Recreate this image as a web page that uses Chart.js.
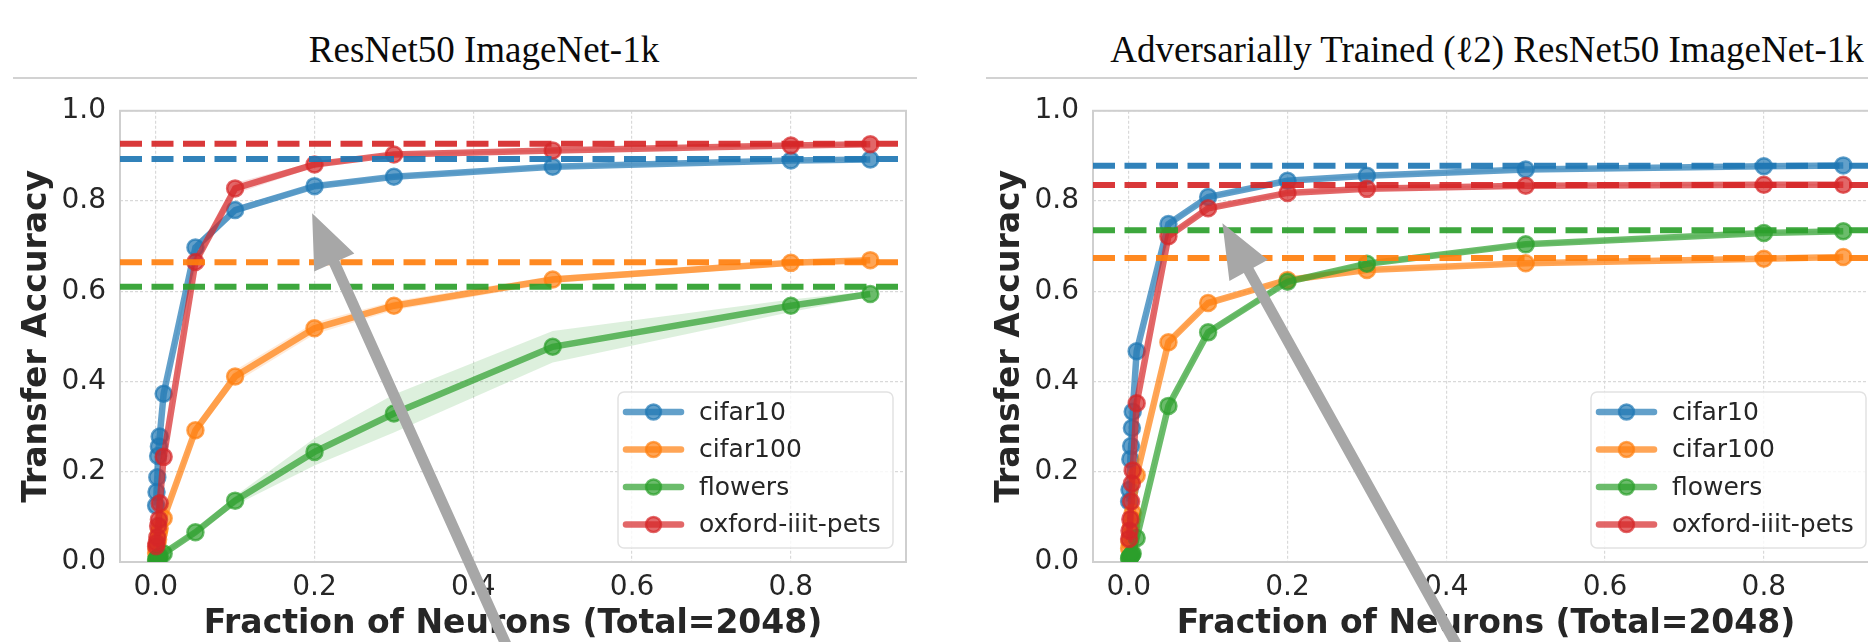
<!DOCTYPE html>
<html>
<head>
<meta charset="utf-8">
<script src="https://cdn.jsdelivr.net/npm/chart.js@4.4.1/dist/chart.umd.min.js"></script>
<style>
  html, body { margin: 0; padding: 0; background: #fff; }
  body { width: 1868px; height: 642px; overflow: hidden; position: relative; }
  .panel { position: absolute; top: 0; width: 934px; height: 642px; }
  .title {
    position: absolute; top: 31px; transform: translateX(-50%);
    font-family: "Liberation Serif", "DejaVu Serif", serif; font-size: 37px; line-height: 37px;
    color: #0a0a0a; white-space: nowrap;
  }
  .rule { position: absolute; top: 77px; left: 13px; width: 904px; height: 2px; background: #d2d2d2; }
  canvas.plot { position: absolute; top: 80px; left: 0; }
</style>
</head>
<body>
<div class="panel" style="left:0px">
  <div class="title" style="left:484px">ResNet50 ImageNet-1k</div>
  <div class="rule"></div>
  <canvas class="plot" id="stdChart" width="934" height="562"></canvas>
</div>
<div class="panel" style="left:973px">
  <div class="title" style="left:514px">Adversarially Trained (ℓ2) ResNet50 ImageNet-1k</div>
  <div class="rule"></div>
  <canvas class="plot" id="advChart" width="934" height="562"></canvas>
</div>
<script>
// Fraction of the 2048 penultimate-layer neurons kept
const fractions = [0.0005, 0.001, 0.002, 0.003, 0.004, 0.005, 0.01, 0.05, 0.1, 0.2, 0.3, 0.5, 0.8, 0.9];
const seriesNames = ['cifar10', 'cifar100', 'flowers', 'oxford-iiit-pets'];
const seriesColors = ['#1f77b4', '#ff7f0e', '#2ca02c', '#d62728'];
const xTickValues = [0.0, 0.2, 0.4, 0.6, 0.8];
const yTickValues = [0.0, 0.2, 0.4, 0.6, 0.8, 1.0];
const X_MIN = -0.045, X_MAX = 0.945;

// Standard ResNet50
const stdCifar10  = [0.125, 0.155, 0.188, 0.235, 0.256, 0.278, 0.373, 0.697, 0.780, 0.833, 0.854, 0.876, 0.890, 0.892];
const stdCifar100 = [0.020, 0.030, 0.040, 0.050, 0.065, 0.075, 0.097, 0.292, 0.411, 0.518, 0.568, 0.626, 0.663, 0.669];
const stdFlowers  = [0.005, 0.006, 0.008, 0.009, 0.011, 0.012, 0.019, 0.066, 0.136, 0.244, 0.329, 0.477, 0.568, 0.594];
const stdPets     = [0.035, 0.042, 0.055, 0.080, 0.094, 0.130, 0.233, 0.665, 0.828, 0.881, 0.903, 0.912, 0.923, 0.926];
// half-width of the shaded band around each curve
const stdCifar10Spread  = [0.005, 0.005, 0.005, 0.005, 0.005, 0.005, 0.006, 0.010, 0.008, 0.005, 0.004, 0.004, 0.003, 0.003];
const stdCifar100Spread = [0.004, 0.004, 0.004, 0.004, 0.004, 0.004, 0.005, 0.010, 0.014, 0.013, 0.010, 0.008, 0.006, 0.006];
const stdFlowersSpread  = [0.003, 0.003, 0.003, 0.003, 0.003, 0.003, 0.004, 0.006, 0.010, 0.030, 0.042, 0.035, 0.014, 0.006];
const stdPetsSpread     = [0.004, 0.004, 0.004, 0.004, 0.004, 0.005, 0.006, 0.010, 0.012, 0.006, 0.004, 0.003, 0.003, 0.003];
// accuracy with all neurons (dashed reference lines)
const stdFullModel = [0.893, 0.6645, 0.610, 0.927];

// Adversarially trained (l2) ResNet50
const advCifar10  = [0.134, 0.160, 0.228, 0.257, 0.297, 0.333, 0.467, 0.749, 0.809, 0.845, 0.856, 0.870, 0.877, 0.879];
const advCifar100 = [0.030, 0.045, 0.060, 0.080, 0.095, 0.109, 0.192, 0.487, 0.574, 0.625, 0.647, 0.662, 0.672, 0.676];
const advFlowers  = [0.008, 0.010, 0.012, 0.014, 0.016, 0.019, 0.053, 0.346, 0.509, 0.621, 0.661, 0.704, 0.729, 0.733];
const advPets     = [0.051, 0.069, 0.095, 0.134, 0.174, 0.203, 0.352, 0.722, 0.784, 0.818, 0.827, 0.834, 0.836, 0.836];
const advCifar10Spread  = [0.004, 0.004, 0.004, 0.004, 0.004, 0.004, 0.005, 0.005, 0.004, 0.003, 0.003, 0.003, 0.002, 0.002];
const advCifar100Spread = [0.004, 0.004, 0.004, 0.004, 0.004, 0.004, 0.005, 0.006, 0.005, 0.004, 0.003, 0.003, 0.002, 0.002];
const advFlowersSpread  = [0.003, 0.003, 0.003, 0.003, 0.003, 0.003, 0.005, 0.006, 0.006, 0.005, 0.005, 0.004, 0.003, 0.003];
const advPetsSpread     = [0.004, 0.004, 0.004, 0.004, 0.004, 0.004, 0.005, 0.005, 0.004, 0.003, 0.003, 0.002, 0.002, 0.002];
const advFullModel = [0.878, 0.674, 0.735, 0.8355];

// annotation arrows: [x, y] in data units (tip near the knee of the curves, tail below the axis)
const stdArrowTip = [0.197, 0.773], stdArrowTail = [0.443, -0.19];
const advArrowTip = [0.118, 0.751], advArrowTail = [0.415, -0.19];

const FONT = '"DejaVu Sans", "Liberation Sans", sans-serif';
const TEXT = '#262626';

function rgba(hex, a) {
  const n = parseInt(hex.slice(1), 16);
  return `rgba(${(n >> 16) & 255},${(n >> 8) & 255},${n & 255},${a})`;
}

function buildDatasets(curves, spreads, fullModel) {
  const ds = [];
  curves.forEach((vals, i) => {
    const lowerIndex = ds.length;
    ds.push({
      data: fractions.map((x, k) => ({ x, y: vals[k] - spreads[i][k] })),
      borderColor: 'transparent', borderWidth: 1, pointRadius: 0, fill: false, order: 30
    });
    ds.push({
      data: fractions.map((x, k) => ({ x, y: vals[k] + spreads[i][k] })),
      borderColor: 'transparent', borderWidth: 1, pointRadius: 0,
      fill: { target: lowerIndex }, backgroundColor: rgba(seriesColors[i], 0.16), order: 30
    });
  });
  curves.forEach((vals, i) => {
    const c = seriesColors[i];
    ds.push({
      label: seriesNames[i],
      data: fractions.map((x, k) => ({ x, y: vals[k] })),
      borderColor: rgba(c, 0.7), borderWidth: 6.5,
      pointRadius: 8, pointBorderWidth: 2.5,
      pointBackgroundColor: rgba(c, 0.7), pointBorderColor: rgba(c, 0.7),
      fill: false, tension: 0, order: 10 - i
    });
  });
  fullModel.forEach((v, i) => {
    ds.push({
      data: [{ x: X_MIN, y: v }, { x: X_MAX, y: v }],
      borderColor: rgba(seriesColors[i], 0.92), borderWidth: 6, borderDash: [22, 9.5],
      pointRadius: 0, fill: false, order: 1
    });
  });
  return ds;
}

const framePlugin = {
  id: 'frame',
  beforeDatasetsDraw(chart) {
    const { ctx, chartArea: a } = chart;
    ctx.save();
    ctx.strokeStyle = '#cfcfcf';
    ctx.lineWidth = 2;
    ctx.strokeRect(a.left, a.top, a.right - a.left, a.bottom - a.top);
    ctx.restore();
  }
};

const legendPlugin = {
  id: 'insetLegend',
  afterDatasetsDraw(chart) {
    const { ctx, chartArea: a } = chart;
    const w = 275, h = 156;
    const right = a.right - 13, bottom = a.bottom - 14;
    const left = right - w, top = bottom - h;
    ctx.save();
    ctx.beginPath();
    ctx.roundRect(left, top, w, h, 6);
    ctx.fillStyle = 'rgba(255,255,255,0.8)';
    ctx.fill();
    ctx.strokeStyle = '#e2e2e2';
    ctx.lineWidth = 1.5;
    ctx.stroke();
    seriesNames.forEach((name, i) => {
      const c = seriesColors[i];
      const y = top + 20 + i * 37.5;
      ctx.beginPath();
      ctx.moveTo(left + 8, y);
      ctx.lineTo(left + 63, y);
      ctx.strokeStyle = rgba(c, 0.7);
      ctx.lineWidth = 6.5;
      ctx.lineCap = 'round';
      ctx.stroke();
      ctx.beginPath();
      ctx.arc(left + 35.5, y, 7.5, 0, Math.PI * 2);
      ctx.fillStyle = rgba(c, 0.7);
      ctx.fill();
      ctx.lineWidth = 2.5;
      ctx.stroke();
      ctx.fillStyle = TEXT;
      ctx.font = '25px ' + FONT;
      ctx.textBaseline = 'middle';
      ctx.textAlign = 'left';
      ctx.fillText(name, left + 81, y + 1);
    });
    ctx.restore();
  }
};

const arrowPlugin = {
  id: 'pointerArrow',
  afterDraw(chart, args, opts) {
    const { ctx, scales: { x, y } } = chart;
    const tx = x.getPixelForValue(opts.tip[0]), ty = y.getPixelForValue(opts.tip[1]);
    const bx = x.getPixelForValue(opts.tail[0]), by = y.getPixelForValue(opts.tail[1]);
    const len = Math.hypot(bx - tx, by - ty);
    const ux = (bx - tx) / len, uy = (by - ty) / len;
    const px = -uy, py = ux;
    const headLen = 54, headHalf = 22, shaftHalf = 5.5;
    const hx = tx + ux * headLen, hy = ty + uy * headLen;
    ctx.save();
    ctx.fillStyle = '#a7a7a7';
    ctx.beginPath();
    ctx.moveTo(tx, ty);
    ctx.lineTo(hx + px * headHalf, hy + py * headHalf);
    ctx.lineTo(hx + px * shaftHalf, hy + py * shaftHalf);
    ctx.lineTo(bx + px * shaftHalf, by + py * shaftHalf);
    ctx.lineTo(bx - px * shaftHalf, by - py * shaftHalf);
    ctx.lineTo(hx - px * shaftHalf, hy - py * shaftHalf);
    ctx.lineTo(hx - px * headHalf, hy - py * headHalf);
    ctx.closePath();
    ctx.fill();
    ctx.restore();
  }
};

function makeChart(canvasId, curves, spreads, fullModel, tip, tail) {
  return new Chart(document.getElementById(canvasId), {
    type: 'line',
    data: { datasets: buildDatasets(curves, spreads, fullModel) },
    plugins: [framePlugin, legendPlugin, arrowPlugin],
    options: {
      responsive: false,
      animation: false,
      events: [],
      devicePixelRatio: 1,
      layout: { padding: { top: 20, right: 28, left: 0, bottom: 0 } },
      plugins: {
        legend: { display: false },
        tooltip: { enabled: false },
        pointerArrow: { tip, tail }
      },
      scales: {
        x: {
          type: 'linear', min: X_MIN, max: X_MAX,
          afterBuildTicks: s => { s.ticks = xTickValues.map(v => ({ value: v })); },
          afterFit: s => { s.height = 80; },
          ticks: {
            callback: v => Number(v).toFixed(1), autoSkip: false, maxRotation: 0,
            font: { family: FONT, size: 28 }, color: TEXT, padding: 9
          },
          grid: { color: '#d9d9d9', lineWidth: 1.2, drawTicks: false },
          border: { display: false, dash: [3, 2] },
          title: {
            display: true, text: 'Fraction of Neurons (Total=2048)', color: TEXT,
            font: { family: FONT, size: 33, weight: 'bold' }, padding: { top: 0, bottom: -2 }
          }
        },
        y: {
          type: 'linear', min: 0, max: 1,
          afterBuildTicks: s => { s.ticks = yTickValues.map(v => ({ value: v })); },
          afterFit: s => { s.width = 120; },
          ticks: {
            callback: v => Number(v).toFixed(1),
            font: { family: FONT, size: 28 }, color: TEXT, padding: 14
          },
          grid: { color: '#d9d9d9', lineWidth: 1.2, drawTicks: false },
          border: { display: false, dash: [3, 2] },
          title: {
            display: true, text: 'Transfer Accuracy', color: TEXT,
            font: { family: FONT, size: 33, weight: 'bold' }, padding: { top: 18, bottom: 0 }
          }
        }
      }
    }
  });
}

makeChart('stdChart',
  [stdCifar10, stdCifar100, stdFlowers, stdPets],
  [stdCifar10Spread, stdCifar100Spread, stdFlowersSpread, stdPetsSpread],
  stdFullModel, stdArrowTip, stdArrowTail);

makeChart('advChart',
  [advCifar10, advCifar100, advFlowers, advPets],
  [advCifar10Spread, advCifar100Spread, advFlowersSpread, advPetsSpread],
  advFullModel, advArrowTip, advArrowTail);
</script>
</body>
</html>
